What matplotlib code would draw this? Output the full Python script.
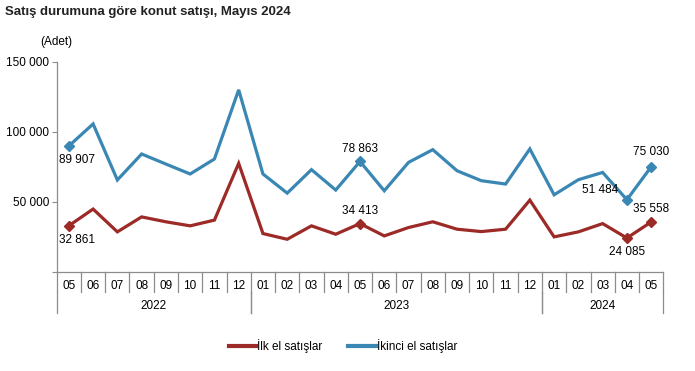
import matplotlib
matplotlib.use('Agg')
import matplotlib.pyplot as plt
from matplotlib.lines import Line2D
import matplotlib.transforms as mtransforms

plt.rcParams['font.family'] = ['Liberation Sans', 'DejaVu Sans']

# Monthly house sales, 2022-05 .. 2024-05
months = ['05', '06', '07', '08', '09', '10', '11', '12',
          '01', '02', '03', '04', '05', '06', '07', '08', '09', '10', '11', '12',
          '01', '02', '03', '04', '05']
years = ['2022', '2023', '2024']
year_spans = [(0, 7), (8, 19), (20, 24)]

ilk_el = [32861, 44800, 28500, 39200, 35700, 32800, 36900, 77500,
          27300, 23200, 32800, 26800, 34413, 25600, 31600, 35700, 30400, 28700, 30400, 51200,
          24900, 28500, 34400, 24085, 35558]
ikinci_el = [89907, 105700, 65600, 84200, 77000, 69900, 80600, 130100,
             69900, 56200, 73000, 58400, 78863, 57900, 78200, 87300, 72200, 65100, 62700, 87800,
             55000, 65800, 71000, 51484, 75030]

# labelled points: index -> (dx, dy, ha, va) offsets in points
ilk_labels = {0: (0, -6, 'left', 'top'), 12: (0, 5, 'center', 'bottom'),
              23: (0, -6, 'center', 'top'), 24: (0, 5, 'center', 'bottom')}
ikinci_labels = {0: (0, -6, 'left', 'top'), 12: (0, 5, 'center', 'bottom'),
                 23: (-6, 3, 'right', 'bottom'), 24: (0, 6, 'center', 'bottom')}

RED = '#9c2a27'
BLUE = '#3a87b4'
AXIS_GRAY = '#8c8c8c'

fig = plt.figure(figsize=(6.95, 3.71), dpi=100)
ax = fig.add_axes([56.7 / 695, 1 - 271.7 / 371, (663.3 - 56.7) / 695, (271.7 - 62) / 371])

x = list(range(len(months)))
ax.plot(x, ilk_el, color=RED, lw=2.3, solid_joinstyle='miter')
ax.plot(x, ikinci_el, color=BLUE, lw=2.3, solid_joinstyle='miter')

def fmt(v):
    return f'{v:,}'.replace(',', ' ')

for series, labels, col in [(ilk_el, ilk_labels, RED), (ikinci_el, ikinci_labels, BLUE)]:
    for i, (dx, dy, ha, va) in labels.items():
        ax.plot(i, series[i], marker='D', color=col, ms=5)
        xo = i - 0.4 if ha == 'left' and i == 0 else i
        ax.annotate(fmt(series[i]), (xo, series[i]), xytext=(dx, dy), textcoords='offset points',
                    ha=ha, va=va, fontsize=8.5, color='black')

ax.set_xlim(-0.5, len(months) - 0.5)
ax.set_ylim(0, 150000)
ax.set_yticks([0, 50000, 100000, 150000])
ax.set_yticklabels(['', '50 000', '100 000', '150 000'], fontsize=8.5)
ax.tick_params(axis='y', length=3.5, color=AXIS_GRAY, pad=2)
ax.set_xticks([])
for s in ['top', 'right']:
    ax.spines[s].set_visible(False)
for s in ['left', 'bottom']:
    ax.spines[s].set_color(AXIS_GRAY)
    ax.spines[s].set_linewidth(0.9)

# category axis with month / year rows
trans = mtransforms.blended_transform_factory(ax.transData, ax.transAxes)
h = 271.7 - 62
month_bottom = -(292 - 271.7) / h
year_bottom = -(313 - 271.7) / h
for i in range(len(months) + 1):
    ax.add_line(Line2D([i - 0.5, i - 0.5], [0, month_bottom], transform=trans,
                       color=AXIS_GRAY, lw=0.9, clip_on=False))
for m, i in zip(months, x):
    ax.text(i, -(285.7 - 271.7) / h, m, transform=trans, ha='center', va='center', fontsize=8.5)
for yr, (a, b) in zip(years, year_spans):
    for edge in (a - 0.5, b + 0.5):
        ax.add_line(Line2D([edge, edge], [month_bottom, year_bottom], transform=trans,
                           color=AXIS_GRAY, lw=0.9, clip_on=False))
    ax.text((a + b) / 2, -(305.7 - 271.7) / h, yr, transform=trans, ha='center', va='center',
            fontsize=8.5)

fig.text(5 / 695, 1 - 12 / 371, 'Satış durumuna göre konut satışı, Mayıs 2024',
         fontsize=9.5, fontweight='bold', ha='left', va='center', color='#222222')
fig.text(40 / 695, 1 - 42 / 371, '(Adet)', fontsize=8.5, ha='left', va='center')

handles = [Line2D([0], [0], color=RED, lw=3), Line2D([0], [0], color=BLUE, lw=3)]
fig.legend(handles, ['İlk el satışlar', 'İkinci el satışlar'], loc='center',
           bbox_to_anchor=(343 / 695, 1 - 346 / 371), ncol=2, frameon=False,
           fontsize=8.5, handlelength=2.3, handletextpad=0.1, columnspacing=2.2)

fig.savefig('out.png', dpi=100, facecolor='white')
